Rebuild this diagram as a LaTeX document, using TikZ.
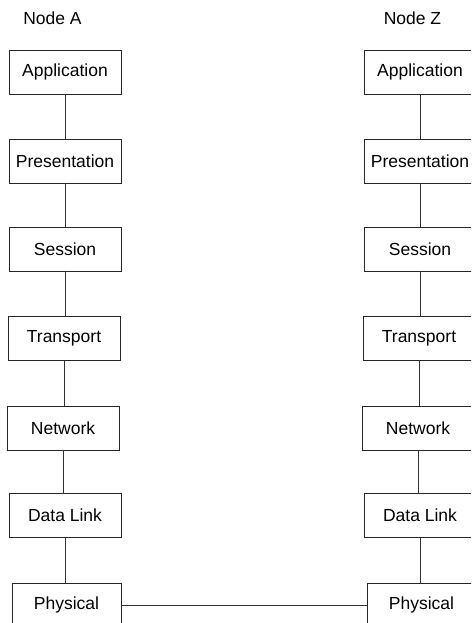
\documentclass[tikz,border=0pt]{standalone}
\usepackage{fontspec}
\setmainfont{Liberation Sans}
\begin{document}
\begin{tikzpicture}[x=1pt,y=-1pt,
  layer/.style={draw=black!85, line width=0.8pt, rectangle, minimum width=112pt,
    minimum height=44pt, inner sep=0pt, font=\fontsize{17.5}{20}\selectfont},
  title/.style={anchor=base, inner sep=0pt, font=\fontsize{17.5}{20}\selectfont},
  link/.style={draw=black!80, line width=0.8pt}]
\useasboundingbox (0,0) rectangle (471,623);
\clip (0,0) rectangle (471,623);

% stack headings
\node[title] (ta) at (52.5,25) {Node A};
\node[title] (tz) at (412.5,25) {Node Z};

% left protocol stack
\node[layer] (a1) at (65,72)    {Application};
\node[layer] (a2) at (65,161)   {Presentation};
\node[layer] (a3) at (65,249)   {Session};
\node[layer] (a4) at (64,338.5) {Transport};
\node[layer] (a5) at (63,428)   {Network};
\node[layer] (a6) at (65,515)   {Data Link};
\node[layer, minimum width=109pt] (a7) at (66.5,605) {Physical};

% right protocol stack
\node[layer] (z1) at (420,72)    {Application};
\node[layer] (z2) at (420,161)   {Presentation};
\node[layer] (z3) at (420,249)   {Session};
\node[layer] (z4) at (419,338.5) {Transport};
\node[layer] (z5) at (418,428.5) {Network};
\node[layer] (z6) at (420,515)   {Data Link};
\node[layer, minimum width=109pt] (z7) at (421.5,605) {Physical};

% vertical links inside each stack
\foreach \s in {a,z}{
  \foreach \i/\j in {1/2,2/3,3/4,4/5,5/6,6/7}{
    \draw[link] (\s\i.south) -- (\s\i.south |- \s\j.north);
  }
}

% physical medium between the two nodes
\draw[link] (a7.east) -- (z7.west);
\end{tikzpicture}
\end{document}
